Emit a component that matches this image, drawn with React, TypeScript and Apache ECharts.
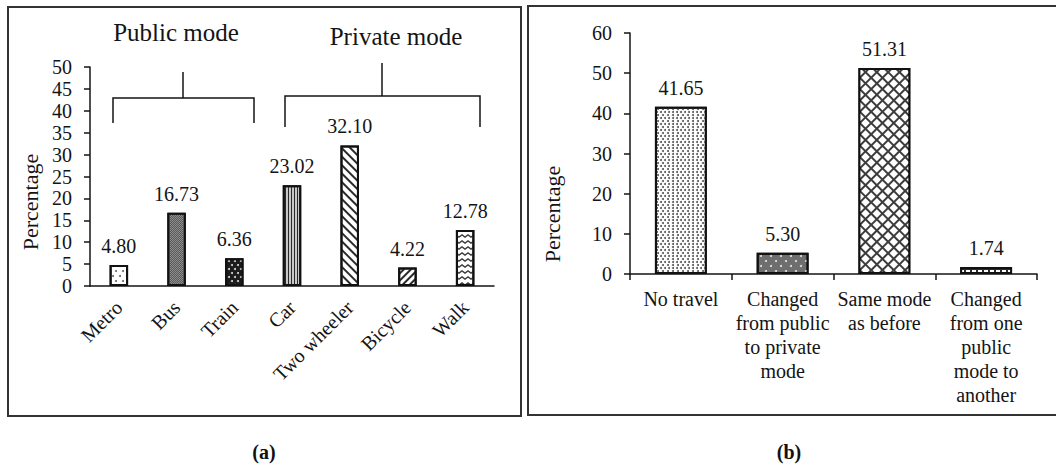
import React, { useEffect, useRef } from "react";
import * as echarts from "echarts";

const modeCategories = ["Metro", "Bus", "Train", "Car", "Two wheeler", "Bicycle", "Walk"];
const modeValues = [4.8, 16.73, 6.36, 23.02, 32.1, 4.22, 12.78];

const changeCategories = [
  "No travel",
  "Changed\nfrom public\nto private\nmode",
  "Same mode\nas before",
  "Changed\nfrom one\npublic\nmode to\nanother",
];
const changeValues = [41.65, 5.3, 51.31, 1.74];

const FONT = "Liberation Serif, serif";
const INK = "#141414";

// bar fill + decal patterns (styling only)
const modeStyles = [
  { color: "#ffffff", decal: { symbol: "circle", symbolSize: 1, color: "#666", dashArrayX: [[1.6, 4.4], [0, 3, 1.6, 1.4]], dashArrayY: [1.6, 2.2] } },
  { color: "#8c8c8c", decal: { symbol: "rect", symbolSize: 1, color: "#5a5a5a", dashArrayX: [[1, 1], [0, 1, 1, 0]], dashArrayY: [1, 0] } },
  { color: "#1c1c1c", decal: { symbol: "circle", symbolSize: 1, color: "#d8d8d8", dashArrayX: [[1.8, 3.2], [0, 2.5, 1.8, 0.7]], dashArrayY: [1.8, 1.4] } },
  { color: "#c8c8c8", decal: { symbol: "rect", symbolSize: 1, color: "#2a2a2a", dashArrayX: [1, 2], dashArrayY: [1, 0] } },
  { color: "#ffffff", decal: { symbol: "rect", symbolSize: 1, color: "#2a2a2a", dashArrayX: [1, 0], dashArrayY: [1.3, 3.2], rotation: Math.PI / 4 } },
  { color: "#ffffff", decal: { symbol: "rect", symbolSize: 1, color: "#2a2a2a", dashArrayX: [1, 0], dashArrayY: [1.2, 2.2], rotation: -Math.PI / 4 } },
  { color: "#ffffff", decal: { symbol: "path://M0,0L5,4L10,0L10,3L5,7L0,3Z", symbolSize: 1, symbolKeepAspect: false, color: "#3a3a3a", dashArrayX: [6, 0], dashArrayY: [4, 1.5] } },
];

const changeStyles = [
  { color: "#ffffff", decal: { symbol: "circle", symbolSize: 1, color: "#555", dashArrayX: [[1.3, 1.7], [0, 1.5, 1.3, 0.2]], dashArrayY: [1.3, 0.6] } },
  { color: "#6e6e6e", decal: { symbol: "circle", symbolSize: 1, color: "#e6e6e6", dashArrayX: [[2, 8], [0, 5, 2, 3]], dashArrayY: [2, 3] } },
  { color: "#3c3c3c", decal: { symbol: "rect", symbolSize: 1, color: "#ffffff", dashArrayX: [5.6, 1.3], dashArrayY: [5.6, 1.3], rotation: Math.PI / 4 } },
  { color: "#2a2a2a", decal: { symbol: "rect", symbolSize: 1, color: "#ffffff", dashArrayX: [3.6, 1.4], dashArrayY: [3.6, 1.4] } },
];

export default function App() {
  const ref = useRef<HTMLDivElement>(null);

  useEffect(() => {
    document.body.style.margin = "0";
    if (!ref.current) return;
    const chart = echarts.init(ref.current, undefined, { renderer: "svg" });

    const textBase = { fontFamily: FONT, color: INK };

    chart.setOption({
      animation: false,
      backgroundColor: "#ffffff",
      textStyle: { fontFamily: FONT, color: INK },
      grid: [
        { left: 90, top: 67, width: 404, height: 219 },
        { left: 630, top: 33, width: 407, height: 241 },
      ],
      xAxis: [
        {
          type: "category",
          gridIndex: 0,
          data: modeCategories,
          axisLine: { lineStyle: { color: INK, width: 1.5 } },
          axisTick: { show: false },
          axisLabel: { ...textBase, fontSize: 20, rotate: 45, interval: 0, margin: 18 },
        },
        {
          type: "category",
          gridIndex: 1,
          data: changeCategories,
          axisLine: { lineStyle: { color: INK, width: 1.5 } },
          axisTick: { show: true, length: 6, lineStyle: { color: INK, width: 1.5 } },
          axisLabel: { ...textBase, fontSize: 20, lineHeight: 24, interval: 0, margin: 13 },
        },
      ],
      yAxis: [
        {
          type: "value",
          gridIndex: 0,
          min: 0,
          max: 50,
          interval: 5,
          axisLine: { show: true, lineStyle: { color: INK, width: 1.5 } },
          axisTick: { show: true, length: 6, lineStyle: { color: INK, width: 1.5 } },
          axisLabel: { ...textBase, fontSize: 20, margin: 18 },
          splitLine: { show: false },
        },
        {
          type: "value",
          gridIndex: 1,
          min: 0,
          max: 60,
          interval: 10,
          axisLine: { show: true, lineStyle: { color: INK, width: 1.5 } },
          axisTick: { show: true, length: 6, lineStyle: { color: INK, width: 1.5 } },
          axisLabel: { ...textBase, fontSize: 20, margin: 18 },
          splitLine: { show: false },
        },
      ],
      series: [
        {
          type: "bar",
          xAxisIndex: 0,
          yAxisIndex: 0,
          barWidth: "32%",
          data: modeValues.map((v, i) => ({
            value: v,
            itemStyle: { ...modeStyles[i], borderColor: "#111", borderWidth: 2 },
          })),
          label: {
            show: true,
            position: "top",
            distance: 9,
            ...textBase,
            fontSize: 20,
            formatter: (p: any) => Number(p.value).toFixed(2),
          },
        },
        {
          type: "bar",
          xAxisIndex: 1,
          yAxisIndex: 1,
          barWidth: "51%",
          data: changeValues.map((v, i) => ({
            value: v,
            itemStyle: { ...changeStyles[i], borderColor: "#111", borderWidth: 2 },
          })),
          label: {
            show: true,
            position: "top",
            distance: 9,
            ...textBase,
            fontSize: 20,
            formatter: (p: any) => Number(p.value).toFixed(2),
          },
        },
      ],
      graphic: [
        { type: "rect", shape: { x: 8, y: 7, width: 513, height: 409 }, style: { fill: "none", stroke: "#333", lineWidth: 2 }, silent: true },
        { type: "rect", shape: { x: 528, y: 6, width: 540, height: 409 }, style: { fill: "none", stroke: "#333", lineWidth: 2 }, silent: true },
        { type: "polyline", shape: { points: [[113, 123], [113, 98], [254, 98], [254, 123]] }, style: { fill: "none", stroke: INK, lineWidth: 1.5 } },
        { type: "line", shape: { x1: 183, y1: 72, x2: 183, y2: 98 }, style: { stroke: INK, lineWidth: 1.5 } },
        { type: "polyline", shape: { points: [[285, 127], [285, 96], [480, 96], [480, 127]] }, style: { fill: "none", stroke: INK, lineWidth: 1.5 } },
        { type: "line", shape: { x1: 382, y1: 63, x2: 382, y2: 96 }, style: { stroke: INK, lineWidth: 1.5 } },
        { type: "text", x: 176, y: 32, style: { text: "Public mode", font: `25px ${FONT}`, fill: INK, align: "center", verticalAlign: "middle" } },
        { type: "text", x: 396, y: 36, style: { text: "Private mode", font: `25px ${FONT}`, fill: INK, align: "center", verticalAlign: "middle" } },
        { type: "text", x: 30, y: 202, rotation: Math.PI / 2, style: { text: "Percentage", font: `22px ${FONT}`, fill: INK, align: "center", verticalAlign: "middle" } },
        { type: "text", x: 552, y: 214, rotation: Math.PI / 2, style: { text: "Percentage", font: `22px ${FONT}`, fill: INK, align: "center", verticalAlign: "middle" } },
        { type: "text", x: 264, y: 452, style: { text: "(a)", font: `bold 20px ${FONT}`, fill: "#111", align: "center", verticalAlign: "middle" } },
        { type: "text", x: 789, y: 452, style: { text: "(b)", font: `bold 20px ${FONT}`, fill: "#111", align: "center", verticalAlign: "middle" } },
      ],
    });

    return () => chart.dispose();
  }, []);

  return <div ref={ref} style={{ width: 1056, height: 475 }} />;
}
